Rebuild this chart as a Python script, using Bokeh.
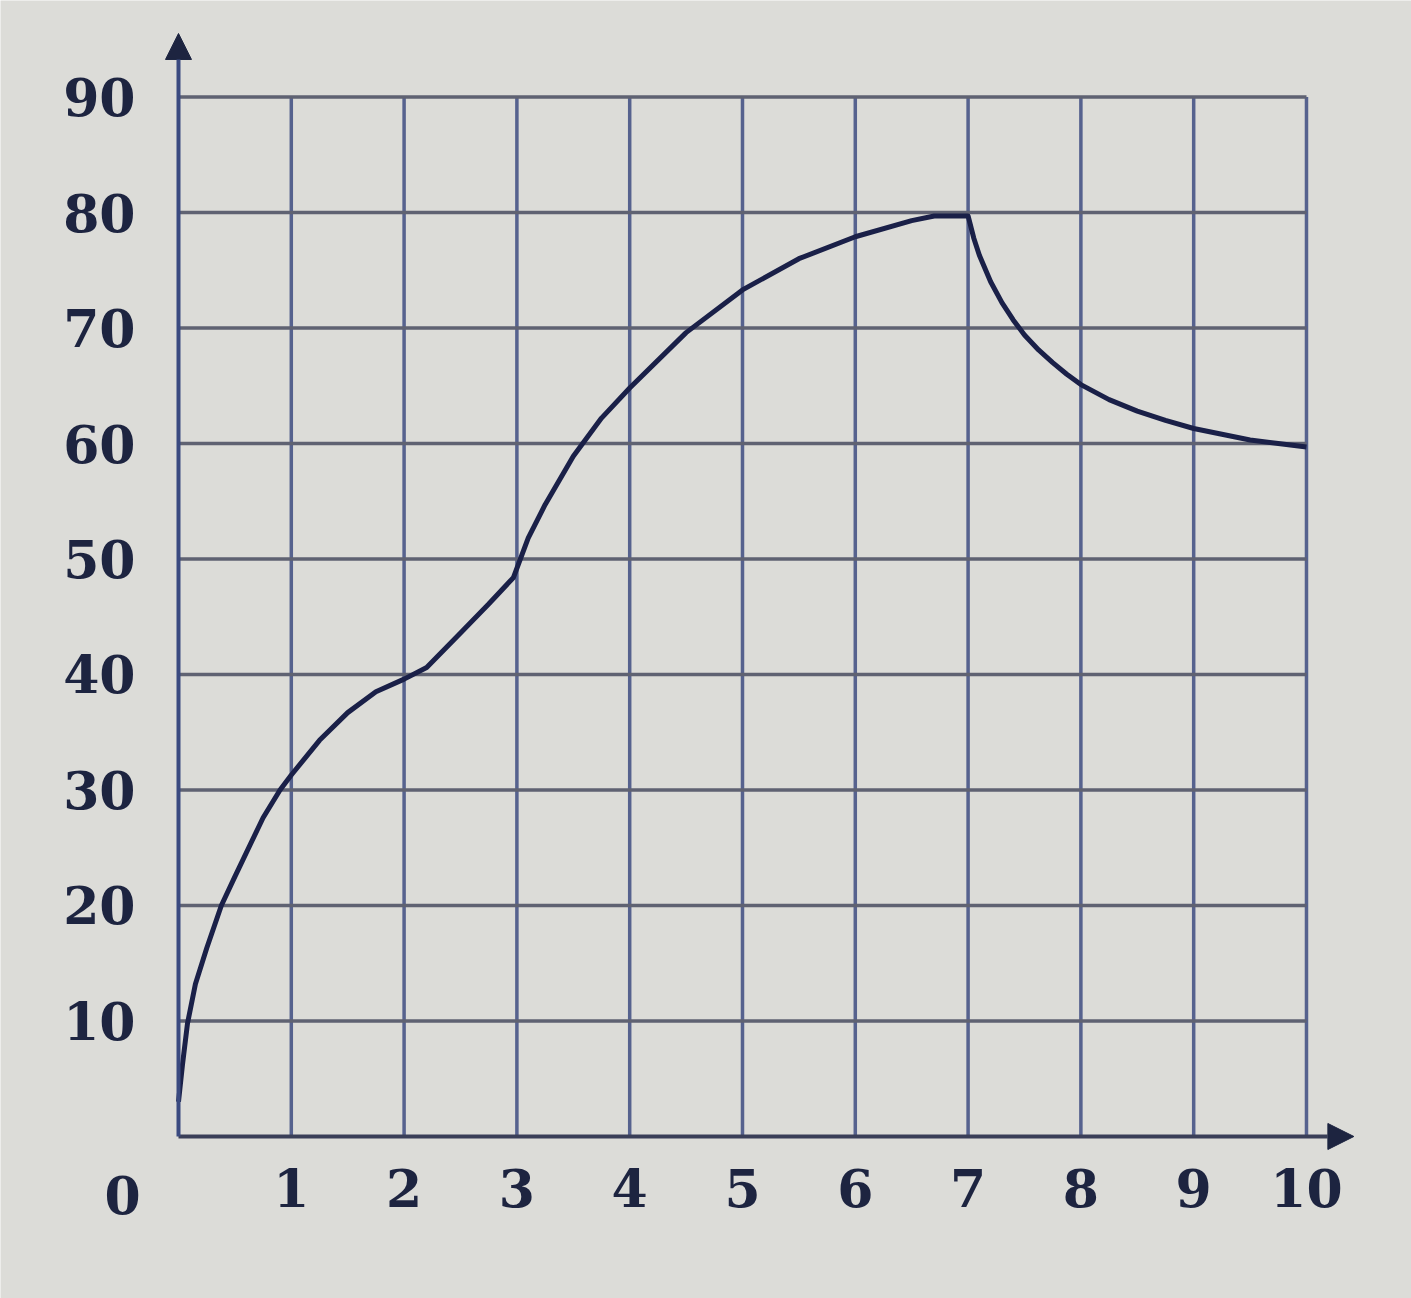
from bokeh.plotting import figure
from bokeh.models import Range1d, FixedTicker, Arrow, NormalHead, ColumnDataSource
from bokeh.core.properties import value
from bokeh.embed import file_html
from bokeh.resources import INLINE

# ---- data ----
x_ticks = [1, 2, 3, 4, 5, 6, 7, 8, 9, 10]
y_ticks = [10, 20, 30, 40, 50, 60, 70, 80, 90]

curve_x = [0, 0.035, 0.08, 0.15, 0.25, 0.38, 0.5, 0.75, 0.9, 1, 1.25, 1.5, 1.75, 2,
           2.2, 2.5, 2.75, 2.97, 3.1, 3.25, 3.5, 3.75, 4, 4.5, 5, 5.5, 6, 6.5, 6.7, 7.0,
           7.05, 7.1, 7.2, 7.3, 7.4, 7.5, 7.625, 7.75, 7.875, 8, 8.25, 8.5, 8.75, 9,
           9.25, 9.5, 9.75, 10]
curve_y = [3, 6.2, 9.8, 13.2, 16.3, 20, 22.5, 27.6, 30, 31.3, 34.3, 36.7, 38.5, 39.6,
           40.6, 43.6, 46.1, 48.4, 51.8, 54.7, 58.9, 62.2, 64.8, 69.6, 73.3, 76.0, 77.9, 79.3, 79.7, 79.7,
           77.8, 76.3, 74.0, 72.2, 70.7, 69.4, 68.1, 67.0, 66.0, 65.1, 63.8, 62.8, 62.0, 61.3,
           60.8, 60.3, 60.0, 59.7]

x_max = 10
y_max = 90
x_arrow_end = 10.42
y_arrow_end = 95.5
origin_label = ["0"]

BG = "#dcdcd8"
INK = "#1d2440"
FONT = "DejaVu Serif"

W, H = 1411, 1298
p = figure(output_backend="svg", toolbar_location=None, width=W, height=H,
           x_range=Range1d(-1.578, 10.931), y_range=Range1d(-14.026, 98.355),
           min_border=0)
p.min_border_left = 0
p.min_border_right = 0
p.min_border_top = 0
p.min_border_bottom = 0
p.background_fill_color = BG
p.border_fill_color = BG
p.outline_line_color = None
p.xgrid.visible = False
p.ygrid.visible = False

# grid built from tick arrays
p.segment(x0=x_ticks, y0=[0] * len(x_ticks), x1=x_ticks, y1=[y_max] * len(x_ticks),
          line_color="#56628e", line_width=3.5)
p.segment(x0=[0] * len(y_ticks), y0=y_ticks, x1=[x_max] * len(y_ticks), y1=y_ticks,
          line_color="#5f6272", line_width=3.5)

# curve
src = ColumnDataSource(dict(x=curve_x, y=curve_y))
p.line("x", "y", source=src, line_color="#1a2048", line_width=5, line_join="round")

# axes with arrows
p.add_layout(Arrow(end=NormalHead(size=26, fill_color=INK, line_color=INK),
                   x_start=0, y_start=0, x_end=x_arrow_end, y_end=0,
                   line_color="#3a3f58", line_width=4))
p.add_layout(Arrow(end=NormalHead(size=26, fill_color=INK, line_color=INK),
                   x_start=0, y_start=0, x_end=0, y_end=y_arrow_end,
                   line_color="#3a4a80", line_width=4))

for ax in (p.xaxis[0], p.yaxis[0]):
    ax.fixed_location = 0
    ax.axis_line_color = None
    ax.major_tick_line_color = None
    ax.minor_tick_line_color = None
    ax.major_tick_out = 0
    ax.major_tick_in = 0
    ax.minor_tick_out = 0
    ax.major_label_text_font = FONT
    ax.major_label_text_font_style = "bold"
    ax.major_label_text_font_size = "52px"
    ax.major_label_text_color = INK

p.xaxis[0].ticker = FixedTicker(ticks=x_ticks)
p.yaxis[0].ticker = FixedTicker(ticks=y_ticks)
p.xaxis[0].major_label_standoff = 33
p.yaxis[0].major_label_standoff = 43

# origin "0" label in the corner
p.text(x=[0], y=[0], text=origin_label, x_offset=-56, y_offset=59,
       text_font=value(FONT), text_font_style="bold", text_font_size="52px",
       text_color=INK, text_align="center", text_baseline="middle")

open("out.html", "w").write(file_html(p, INLINE))
